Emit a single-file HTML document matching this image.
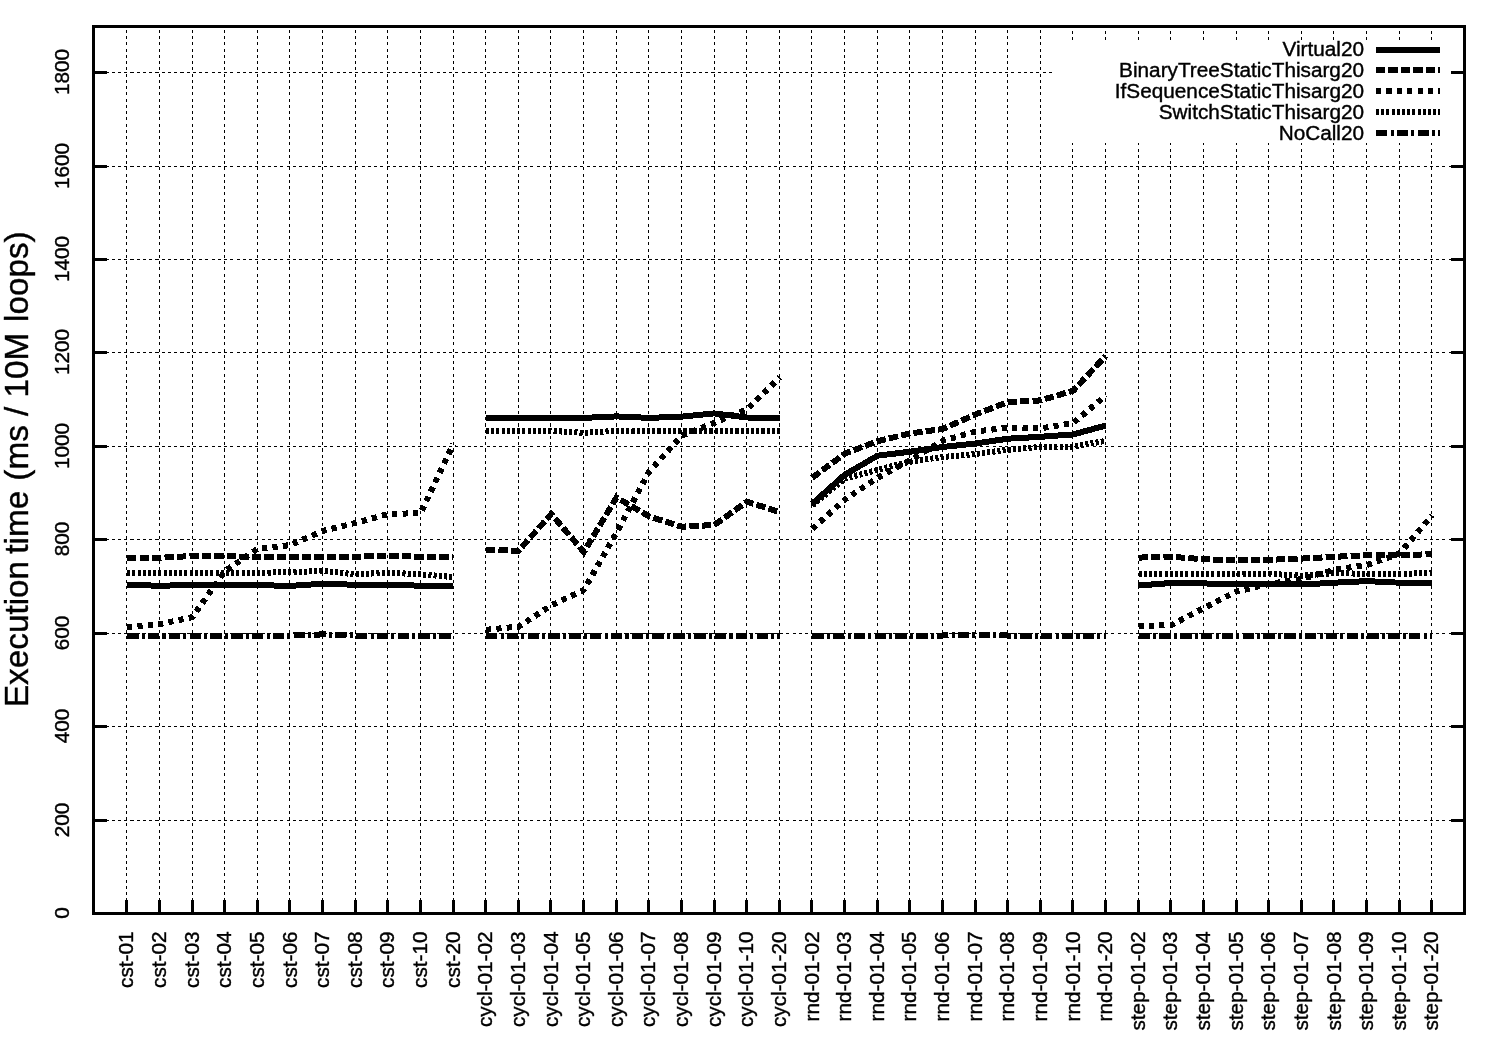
<!DOCTYPE html>
<html lang="en"><head><meta charset="utf-8"><title>Execution time (ms / 10M loops)</title>
<style>html,body{margin:0;padding:0;background:#fff}body{width:1501px;height:1051px;overflow:hidden}svg{display:block;font-family:"Liberation Sans",sans-serif;fill:#000}text{stroke:#000;stroke-width:0.4px}.g line,.g path{stroke:#000;stroke-width:1;fill:none}.s polyline,.s line{stroke:#000;stroke-width:6;fill:none;stroke-linejoin:miter;stroke-linecap:butt}.t line{stroke:#000;stroke-width:3}.l text{font-size:20.75px}</style></head><body>
<svg width="1501" height="1051" viewBox="0 0 1501 1051" shape-rendering="crispEdges">
<rect x="0" y="0" width="1501" height="1051" fill="#fff"/>
<g class="g" stroke-dasharray="3.05 3.197">
<line x1="126.5" y1="913.8" x2="126.5" y2="26.5"/>
<line x1="159.5" y1="913.8" x2="159.5" y2="26.5"/>
<line x1="192.5" y1="913.8" x2="192.5" y2="26.5"/>
<line x1="224.5" y1="913.8" x2="224.5" y2="26.5"/>
<line x1="257.5" y1="913.8" x2="257.5" y2="26.5"/>
<line x1="289.5" y1="913.8" x2="289.5" y2="26.5"/>
<line x1="322.5" y1="913.8" x2="322.5" y2="26.5"/>
<line x1="355.5" y1="913.8" x2="355.5" y2="26.5"/>
<line x1="387.5" y1="913.8" x2="387.5" y2="26.5"/>
<line x1="420.5" y1="913.8" x2="420.5" y2="26.5"/>
<line x1="453.5" y1="913.8" x2="453.5" y2="26.5"/>
<line x1="485.5" y1="913.8" x2="485.5" y2="26.5"/>
<line x1="518.5" y1="913.8" x2="518.5" y2="26.5"/>
<line x1="550.5" y1="913.8" x2="550.5" y2="26.5"/>
<line x1="583.5" y1="913.8" x2="583.5" y2="26.5"/>
<line x1="616.5" y1="913.8" x2="616.5" y2="26.5"/>
<line x1="648.5" y1="913.8" x2="648.5" y2="26.5"/>
<line x1="681.5" y1="913.8" x2="681.5" y2="26.5"/>
<line x1="714.5" y1="913.8" x2="714.5" y2="26.5"/>
<line x1="746.5" y1="913.8" x2="746.5" y2="26.5"/>
<line x1="779.5" y1="913.8" x2="779.5" y2="26.5"/>
<line x1="811.5" y1="913.8" x2="811.5" y2="26.5"/>
<line x1="844.5" y1="913.8" x2="844.5" y2="26.5"/>
<line x1="877.5" y1="913.8" x2="877.5" y2="26.5"/>
<line x1="909.5" y1="913.8" x2="909.5" y2="26.5"/>
<line x1="942.5" y1="913.8" x2="942.5" y2="26.5"/>
<line x1="975.5" y1="913.8" x2="975.5" y2="26.5"/>
<line x1="1007.5" y1="913.8" x2="1007.5" y2="26.5"/>
<line x1="1040.5" y1="913.8" x2="1040.5" y2="26.5"/>
<line x1="1072.5" y1="913.8" x2="1072.5" y2="143.2"/>
<line x1="1072.5" y1="40.0" x2="1072.5" y2="26.5"/>
<line x1="1105.5" y1="913.8" x2="1105.5" y2="143.2"/>
<line x1="1105.5" y1="40.0" x2="1105.5" y2="26.5"/>
<line x1="1138.5" y1="913.8" x2="1138.5" y2="143.2"/>
<line x1="1138.5" y1="40.0" x2="1138.5" y2="26.5"/>
<line x1="1170.5" y1="913.8" x2="1170.5" y2="143.2"/>
<line x1="1170.5" y1="40.0" x2="1170.5" y2="26.5"/>
<line x1="1203.5" y1="913.8" x2="1203.5" y2="143.2"/>
<line x1="1203.5" y1="40.0" x2="1203.5" y2="26.5"/>
<line x1="1236.5" y1="913.8" x2="1236.5" y2="143.2"/>
<line x1="1236.5" y1="40.0" x2="1236.5" y2="26.5"/>
<line x1="1268.5" y1="913.8" x2="1268.5" y2="143.2"/>
<line x1="1268.5" y1="40.0" x2="1268.5" y2="26.5"/>
<line x1="1301.5" y1="913.8" x2="1301.5" y2="143.2"/>
<line x1="1301.5" y1="40.0" x2="1301.5" y2="26.5"/>
<line x1="1333.5" y1="913.8" x2="1333.5" y2="143.2"/>
<line x1="1333.5" y1="40.0" x2="1333.5" y2="26.5"/>
<line x1="1366.5" y1="913.8" x2="1366.5" y2="143.2"/>
<line x1="1366.5" y1="40.0" x2="1366.5" y2="26.5"/>
<line x1="1399.5" y1="913.8" x2="1399.5" y2="143.2"/>
<line x1="1399.5" y1="40.0" x2="1399.5" y2="26.5"/>
<line x1="1431.5" y1="913.8" x2="1431.5" y2="143.2"/>
<line x1="1431.5" y1="40.0" x2="1431.5" y2="26.5"/>
<line x1="93.0" y1="820.5" x2="1464.5" y2="820.5"/>
<line x1="93.0" y1="726.5" x2="1464.5" y2="726.5"/>
<line x1="93.0" y1="633.5" x2="1464.5" y2="633.5"/>
<line x1="93.0" y1="539.5" x2="1464.5" y2="539.5"/>
<line x1="93.0" y1="446.5" x2="1464.5" y2="446.5"/>
<line x1="93.0" y1="352.5" x2="1464.5" y2="352.5"/>
<line x1="93.0" y1="259.5" x2="1464.5" y2="259.5"/>
<line x1="93.0" y1="166.5" x2="1464.5" y2="166.5"/>
<line x1="93.0" y1="72.5" x2="1052.0" y2="72.5"/>
</g>
<g class="t">
<line x1="126.5" y1="913.5" x2="126.5" y2="900.0"/>
<line x1="159.5" y1="913.5" x2="159.5" y2="900.0"/>
<line x1="192.5" y1="913.5" x2="192.5" y2="900.0"/>
<line x1="224.5" y1="913.5" x2="224.5" y2="900.0"/>
<line x1="257.5" y1="913.5" x2="257.5" y2="900.0"/>
<line x1="289.5" y1="913.5" x2="289.5" y2="900.0"/>
<line x1="322.5" y1="913.5" x2="322.5" y2="900.0"/>
<line x1="355.5" y1="913.5" x2="355.5" y2="900.0"/>
<line x1="387.5" y1="913.5" x2="387.5" y2="900.0"/>
<line x1="420.5" y1="913.5" x2="420.5" y2="900.0"/>
<line x1="453.5" y1="913.5" x2="453.5" y2="900.0"/>
<line x1="485.5" y1="913.5" x2="485.5" y2="900.0"/>
<line x1="518.5" y1="913.5" x2="518.5" y2="900.0"/>
<line x1="550.5" y1="913.5" x2="550.5" y2="900.0"/>
<line x1="583.5" y1="913.5" x2="583.5" y2="900.0"/>
<line x1="616.5" y1="913.5" x2="616.5" y2="900.0"/>
<line x1="648.5" y1="913.5" x2="648.5" y2="900.0"/>
<line x1="681.5" y1="913.5" x2="681.5" y2="900.0"/>
<line x1="714.5" y1="913.5" x2="714.5" y2="900.0"/>
<line x1="746.5" y1="913.5" x2="746.5" y2="900.0"/>
<line x1="779.5" y1="913.5" x2="779.5" y2="900.0"/>
<line x1="811.5" y1="913.5" x2="811.5" y2="900.0"/>
<line x1="844.5" y1="913.5" x2="844.5" y2="900.0"/>
<line x1="877.5" y1="913.5" x2="877.5" y2="900.0"/>
<line x1="909.5" y1="913.5" x2="909.5" y2="900.0"/>
<line x1="942.5" y1="913.5" x2="942.5" y2="900.0"/>
<line x1="975.5" y1="913.5" x2="975.5" y2="900.0"/>
<line x1="1007.5" y1="913.5" x2="1007.5" y2="900.0"/>
<line x1="1040.5" y1="913.5" x2="1040.5" y2="900.0"/>
<line x1="1072.5" y1="913.5" x2="1072.5" y2="900.0"/>
<line x1="1105.5" y1="913.5" x2="1105.5" y2="900.0"/>
<line x1="1138.5" y1="913.5" x2="1138.5" y2="900.0"/>
<line x1="1170.5" y1="913.5" x2="1170.5" y2="900.0"/>
<line x1="1203.5" y1="913.5" x2="1203.5" y2="900.0"/>
<line x1="1236.5" y1="913.5" x2="1236.5" y2="900.0"/>
<line x1="1268.5" y1="913.5" x2="1268.5" y2="900.0"/>
<line x1="1301.5" y1="913.5" x2="1301.5" y2="900.0"/>
<line x1="1333.5" y1="913.5" x2="1333.5" y2="900.0"/>
<line x1="1366.5" y1="913.5" x2="1366.5" y2="900.0"/>
<line x1="1399.5" y1="913.5" x2="1399.5" y2="900.0"/>
<line x1="1431.5" y1="913.5" x2="1431.5" y2="900.0"/>
<line x1="93.5" y1="820.5" x2="107.0" y2="820.5"/>
<line x1="1464.5" y1="820.5" x2="1451.0" y2="820.5"/>
<line x1="93.5" y1="726.5" x2="107.0" y2="726.5"/>
<line x1="1464.5" y1="726.5" x2="1451.0" y2="726.5"/>
<line x1="93.5" y1="633.5" x2="107.0" y2="633.5"/>
<line x1="1464.5" y1="633.5" x2="1451.0" y2="633.5"/>
<line x1="93.5" y1="539.5" x2="107.0" y2="539.5"/>
<line x1="1464.5" y1="539.5" x2="1451.0" y2="539.5"/>
<line x1="93.5" y1="446.5" x2="107.0" y2="446.5"/>
<line x1="1464.5" y1="446.5" x2="1451.0" y2="446.5"/>
<line x1="93.5" y1="352.5" x2="107.0" y2="352.5"/>
<line x1="1464.5" y1="352.5" x2="1451.0" y2="352.5"/>
<line x1="93.5" y1="259.5" x2="107.0" y2="259.5"/>
<line x1="1464.5" y1="259.5" x2="1451.0" y2="259.5"/>
<line x1="93.5" y1="166.5" x2="107.0" y2="166.5"/>
<line x1="1464.5" y1="166.5" x2="1451.0" y2="166.5"/>
<line x1="93.5" y1="72.5" x2="107.0" y2="72.5"/>
<line x1="1464.5" y1="72.5" x2="1451.0" y2="72.5"/>
</g>
<g class="s">
<polyline points="127.1,585.0 159.7,585.7 192.3,585.1 225.0,585.1 257.6,585.1 290.2,585.9 322.8,583.7 355.5,584.8 388.1,584.8 420.7,585.7 453.3,585.7"/>
<polyline points="486.0,417.9 518.6,417.9 551.2,417.9 583.8,417.9 616.5,416.4 649.1,417.9 681.7,416.6 714.3,413.4 747.0,417.5 779.6,417.8"/>
<polyline points="812.2,503.8 844.8,474.7 877.5,455.7 910.1,451.7 942.7,447.0 975.3,443.5 1008.0,438.7 1040.6,436.8 1073.2,434.4 1105.8,425.5"/>
<polyline points="1138.5,585.5 1171.1,583.0 1203.7,583.4 1236.3,584.4 1269.0,583.6 1301.6,584.5 1334.2,582.7 1366.8,581.1 1399.5,582.7 1432.1,583.0"/>
</g>
<g class="s" stroke-dasharray="9.33 3.16">
<polyline points="127.1,557.8 159.7,557.8 192.3,556.0 225.0,556.0 257.6,557.1 290.2,557.4 322.8,556.7 355.5,556.7 388.1,555.7 420.7,556.7 453.3,557.4"/>
<polyline points="486.0,549.9 518.6,550.7 551.2,514.0 583.8,551.9 616.5,497.5 649.1,516.4 681.7,526.7 714.3,525.0 747.0,501.7 779.6,512.1"/>
<polyline points="812.2,477.9 844.8,453.6 877.5,441.2 910.1,433.4 942.7,429.0 975.3,414.5 1008.0,402.0 1040.6,400.4 1073.2,390.7 1105.8,355.9"/>
<polyline points="1138.5,557.6 1171.1,556.7 1203.7,559.3 1236.3,560.1 1269.0,559.8 1301.6,558.6 1334.2,556.8 1366.8,555.3 1399.5,555.3 1432.1,554.1"/>
</g>
<g class="s" stroke-dasharray="5.16 5.25">
<polyline points="127.1,627.1 159.7,624.2 192.3,617.1 225.0,571.0 257.6,548.8 290.2,545.1 322.8,531.0 355.5,522.9 388.1,514.1 420.7,513.0 453.3,444.1"/>
<polyline points="486.0,629.8 518.6,626.6 551.2,605.4 583.8,590.0 616.5,532.7 649.1,471.8 681.7,435.7 714.3,422.8 747.0,409.4 779.6,377.5"/>
<polyline points="812.2,528.9 844.8,499.7 877.5,477.9 910.1,460.1 942.7,440.7 975.3,431.6 1008.0,427.6 1040.6,428.4 1073.2,423.0 1105.8,395.5"/>
<polyline points="1138.5,625.9 1171.1,625.1 1203.7,608.1 1236.3,591.6 1269.0,583.9 1301.6,579.0 1334.2,569.8 1366.8,565.0 1399.5,553.6 1432.1,515.3"/>
</g>
<g class="s" stroke-dasharray="3.08 2.12">
<polyline points="127.1,572.8 159.7,572.8 192.3,572.8 225.0,572.8 257.6,572.8 290.2,572.1 322.8,571.0 355.5,574.3 388.1,572.7 420.7,574.3 453.3,577.1"/>
<polyline points="486.0,430.9 518.6,430.9 551.2,430.9 583.8,432.8 616.5,430.9 649.1,431.2 681.7,431.2 714.3,431.2 747.0,431.2 779.6,431.2"/>
<polyline points="812.2,505.4 844.8,478.7 877.5,469.8 910.1,461.7 942.7,457.0 975.3,454.0 1008.0,449.8 1040.6,446.9 1073.2,446.5 1105.8,440.9"/>
<polyline points="1138.5,574.2 1171.1,574.2 1203.7,574.2 1236.3,574.2 1269.0,573.9 1301.6,575.6 1334.2,573.1 1366.8,573.8 1399.5,573.8 1432.1,573.1"/>
</g>
<g class="s" stroke-dasharray="11.41 3.16 3.08 3.16">
<polyline points="127.1,635.5 159.7,635.5 192.3,635.5 225.0,635.5 257.6,635.5 290.2,635.5 322.8,634.4 355.5,635.5 388.1,635.5 420.7,635.5 453.3,635.5"/>
<polyline points="486.0,635.5 518.6,635.5 551.2,635.5 583.8,635.5 616.5,635.5 649.1,635.5 681.7,635.5 714.3,635.5 747.0,635.5 779.6,635.5"/>
<polyline points="812.2,635.5 844.8,635.5 877.5,635.5 910.1,635.5 942.7,635.5 975.3,634.6 1008.0,635.5 1040.6,635.5 1073.2,635.5 1105.8,635.5"/>
<polyline points="1138.5,635.5 1171.1,635.5 1203.7,635.5 1236.3,635.5 1269.0,635.5 1301.6,635.5 1334.2,635.5 1366.8,635.5 1399.5,635.5 1432.1,635.5"/>
</g>
<rect x="93.5" y="26.5" width="1371.0" height="887.0" fill="none" stroke="#000" stroke-width="3"/>
<g class="l" text-anchor="end">
<text x="1364" y="55.5">Virtual20</text>
<text x="1364" y="76.5">BinaryTreeStaticThisarg20</text>
<text x="1364" y="97.5">IfSequenceStaticThisarg20</text>
<text x="1364" y="118.5">SwitchStaticThisarg20</text>
<text x="1364" y="139.5">NoCall20</text>
</g>
<g class="s"><line x1="1376" y1="50.0" x2="1440" y2="50.0"/></g>
<g class="s" stroke-dasharray="9.33 3.16"><line x1="1376" y1="70.0" x2="1440" y2="70.0"/></g>
<g class="s" stroke-dasharray="5.16 5.25"><line x1="1376" y1="91.0" x2="1440" y2="91.0"/></g>
<g class="s" stroke-dasharray="3.08 2.12"><line x1="1376" y1="112.0" x2="1440" y2="112.0"/></g>
<g class="s" stroke-dasharray="11.41 3.16 3.08 3.16"><line x1="1376" y1="133.0" x2="1440" y2="133.0"/></g>
<g class="l" text-anchor="middle">
<text transform="translate(69.2,913.0) rotate(-90)">0</text>
<text transform="translate(69.2,820.0) rotate(-90)">200</text>
<text transform="translate(69.2,726.0) rotate(-90)">400</text>
<text transform="translate(69.2,633.0) rotate(-90)">600</text>
<text transform="translate(69.2,539.0) rotate(-90)">800</text>
<text transform="translate(69.2,446.0) rotate(-90)">1000</text>
<text transform="translate(69.2,352.0) rotate(-90)">1200</text>
<text transform="translate(69.2,259.0) rotate(-90)">1400</text>
<text transform="translate(69.2,166.0) rotate(-90)">1600</text>
<text transform="translate(69.2,72.0) rotate(-90)">1800</text>
</g>
<g class="l" text-anchor="end">
<text transform="translate(133.4,931.4) rotate(-90)">cst-01</text>
<text transform="translate(166.0,931.4) rotate(-90)">cst-02</text>
<text transform="translate(198.6,931.4) rotate(-90)">cst-03</text>
<text transform="translate(231.3,931.4) rotate(-90)">cst-04</text>
<text transform="translate(263.9,931.4) rotate(-90)">cst-05</text>
<text transform="translate(296.5,931.4) rotate(-90)">cst-06</text>
<text transform="translate(329.1,931.4) rotate(-90)">cst-07</text>
<text transform="translate(361.8,931.4) rotate(-90)">cst-08</text>
<text transform="translate(394.4,931.4) rotate(-90)">cst-09</text>
<text transform="translate(427.0,931.4) rotate(-90)">cst-10</text>
<text transform="translate(459.6,931.4) rotate(-90)">cst-20</text>
<text transform="translate(492.3,931.4) rotate(-90)">cycl-01-02</text>
<text transform="translate(524.9,931.4) rotate(-90)">cycl-01-03</text>
<text transform="translate(557.5,931.4) rotate(-90)">cycl-01-04</text>
<text transform="translate(590.1,931.4) rotate(-90)">cycl-01-05</text>
<text transform="translate(622.8,931.4) rotate(-90)">cycl-01-06</text>
<text transform="translate(655.4,931.4) rotate(-90)">cycl-01-07</text>
<text transform="translate(688.0,931.4) rotate(-90)">cycl-01-08</text>
<text transform="translate(720.6,931.4) rotate(-90)">cycl-01-09</text>
<text transform="translate(753.3,931.4) rotate(-90)">cycl-01-10</text>
<text transform="translate(785.9,931.4) rotate(-90)">cycl-01-20</text>
<text transform="translate(818.5,931.4) rotate(-90)">rnd-01-02</text>
<text transform="translate(851.1,931.4) rotate(-90)">rnd-01-03</text>
<text transform="translate(883.8,931.4) rotate(-90)">rnd-01-04</text>
<text transform="translate(916.4,931.4) rotate(-90)">rnd-01-05</text>
<text transform="translate(949.0,931.4) rotate(-90)">rnd-01-06</text>
<text transform="translate(981.6,931.4) rotate(-90)">rnd-01-07</text>
<text transform="translate(1014.3,931.4) rotate(-90)">rnd-01-08</text>
<text transform="translate(1046.9,931.4) rotate(-90)">rnd-01-09</text>
<text transform="translate(1079.5,931.4) rotate(-90)">rnd-01-10</text>
<text transform="translate(1112.1,931.4) rotate(-90)">rnd-01-20</text>
<text transform="translate(1144.8,931.4) rotate(-90)">step-01-02</text>
<text transform="translate(1177.4,931.4) rotate(-90)">step-01-03</text>
<text transform="translate(1210.0,931.4) rotate(-90)">step-01-04</text>
<text transform="translate(1242.6,931.4) rotate(-90)">step-01-05</text>
<text transform="translate(1275.3,931.4) rotate(-90)">step-01-06</text>
<text transform="translate(1307.9,931.4) rotate(-90)">step-01-07</text>
<text transform="translate(1340.5,931.4) rotate(-90)">step-01-08</text>
<text transform="translate(1373.1,931.4) rotate(-90)">step-01-09</text>
<text transform="translate(1405.8,931.4) rotate(-90)">step-01-10</text>
<text transform="translate(1438.4,931.4) rotate(-90)">step-01-20</text>
</g>
<text transform="translate(28.2,469.2) rotate(-90)" text-anchor="middle" font-size="33.3">Execution <tspan dx="-2.1">time </tspan><tspan dx="0.9">(ms / 10M </tspan><tspan dx="1.4">loops)</tspan></text>
</svg></body></html>
